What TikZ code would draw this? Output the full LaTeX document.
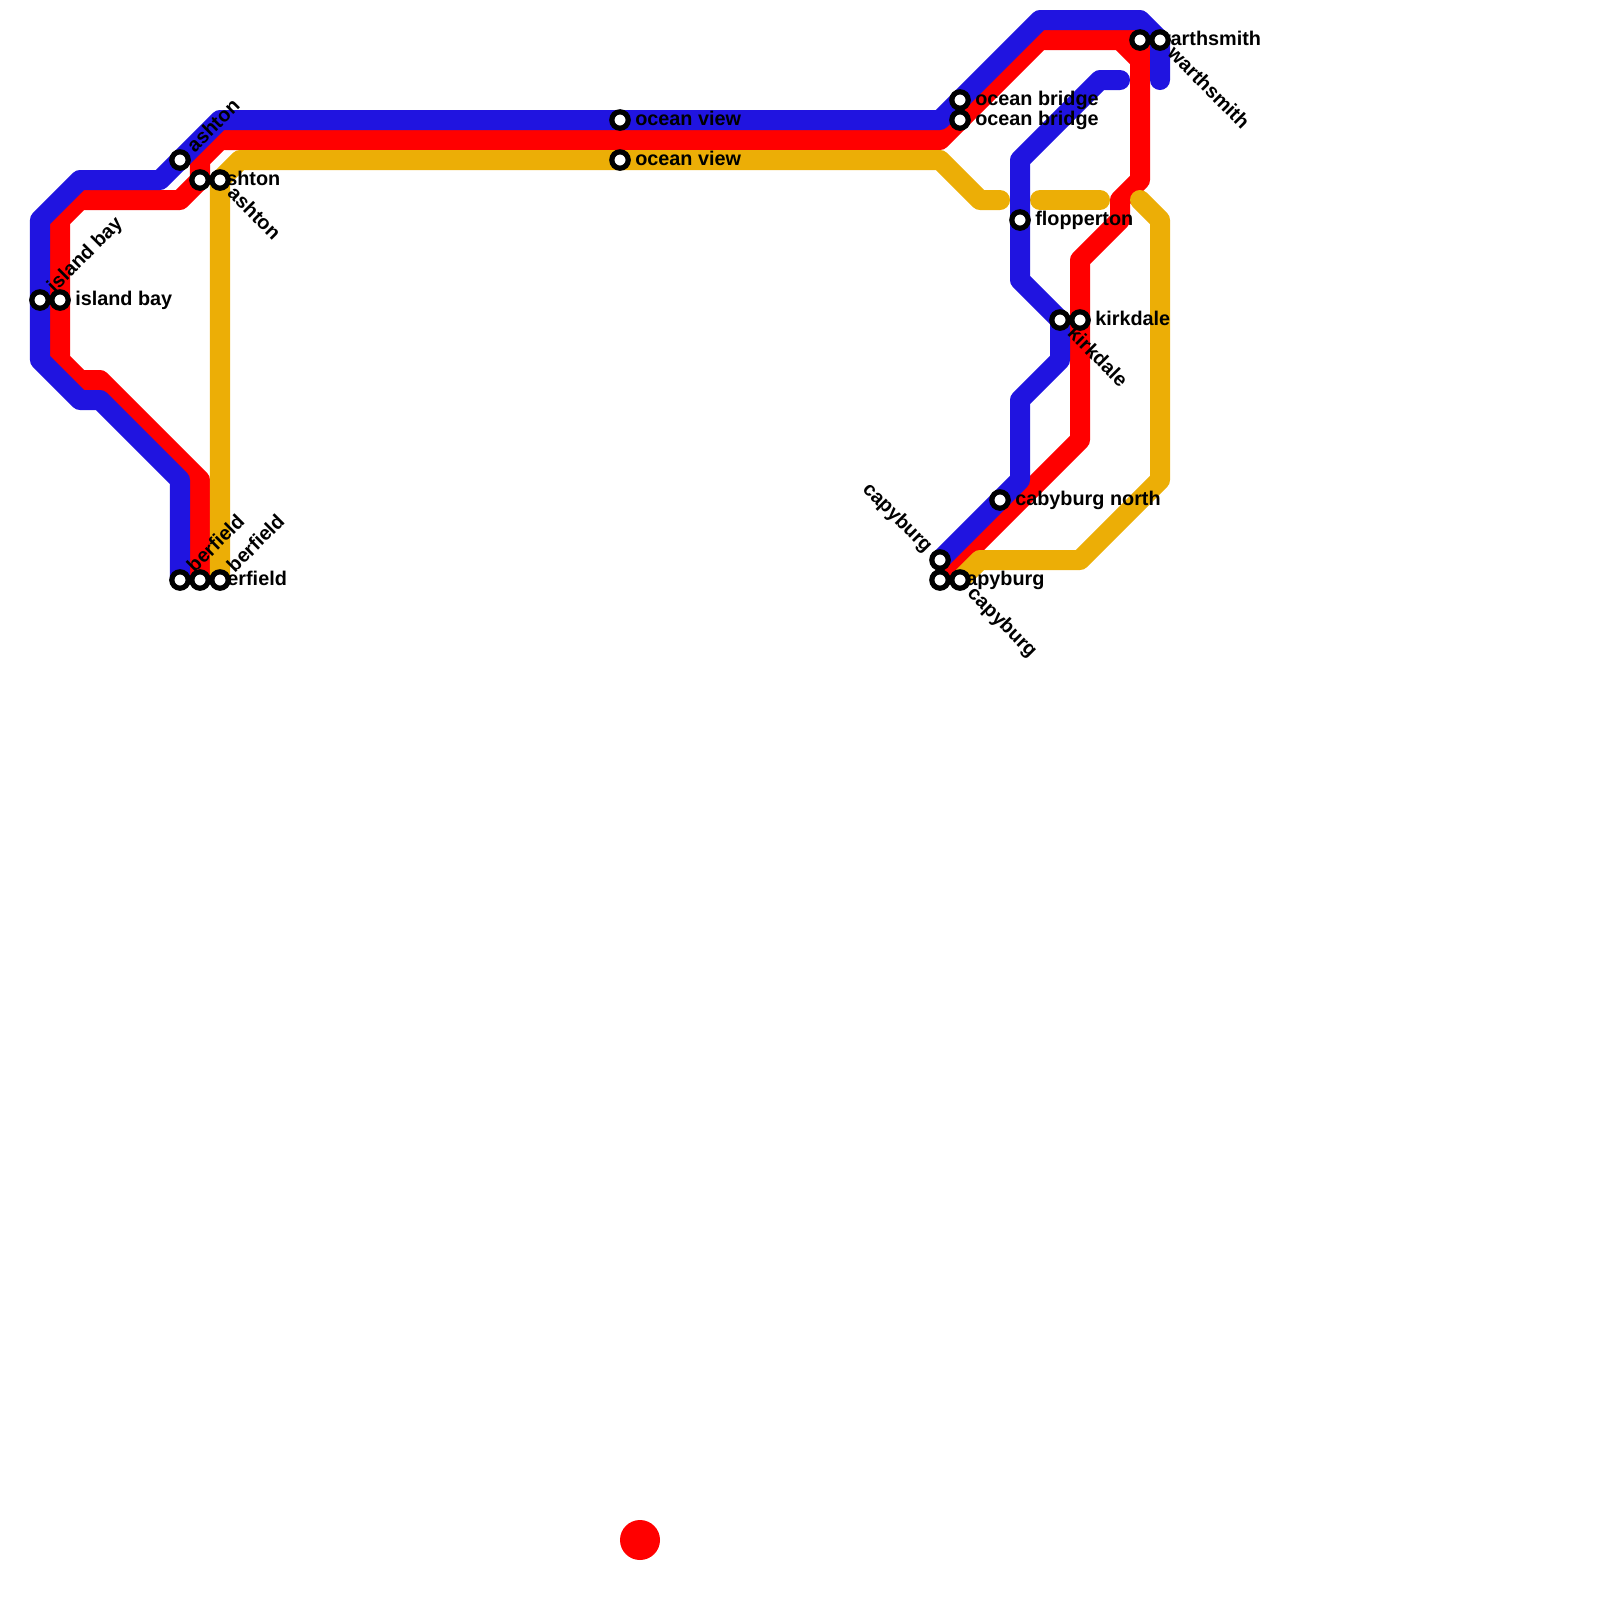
\documentclass[tikz,border=0pt]{standalone}
\usepackage{fontspec}
\setmainfont{Liberation Sans}
\usepackage{xcolor}
\usepackage{tikz}
\usetikzlibrary{positioning,arrows.meta,calc}
\definecolor{lineblue}{RGB}{32,20,224}
\definecolor{linered}{RGB}{255,0,0}
\definecolor{lineyellow}{RGB}{236,174,6}
\tikzset{
  route/.style={line width=0.5cm,line cap=round,line join=round},
  stn/.style={circle,draw=black,fill=white,line width=0.13cm,minimum size=0.41cm,inner sep=0pt,outer sep=0pt},
  lbl/.style={font=\bfseries\fontsize{14.1}{14}\selectfont,inner xsep=0.375cm,inner ysep=0pt,text height=10pt,text depth=1.6pt},
  lblE/.style={lbl,anchor=west},
  lblNE/.style={lbl,anchor=west,rotate=45},
  lblSE/.style={lbl,anchor=west,rotate=-45},
  lblNW/.style={lbl,anchor=east,rotate=-45},
}
\begin{document}
\begin{tikzpicture}[x=0.025cm,y=-0.025cm]
  \useasboundingbox (0,0) rectangle (1600,1600);
  % station positions
  \coordinate (islandA) at (40,300);
  \coordinate (islandB) at (60,300);
  \coordinate (ashtonA) at (180,160);
  \coordinate (ashtonB) at (200,180);
  \coordinate (ashtonC) at (220,180);
  \coordinate (oberA) at (180,580);
  \coordinate (oberB) at (200,580);
  \coordinate (oberC) at (220,580);
  \coordinate (viewA) at (620,120);
  \coordinate (viewB) at (620,160);
  \coordinate (bridgeA) at (960,100);
  \coordinate (bridgeB) at (960,120);
  \coordinate (warthA) at (1140,40);
  \coordinate (warthB) at (1160,40);
  \coordinate (flop) at (1020,220);
  \coordinate (kirkA) at (1060,320);
  \coordinate (kirkB) at (1080,320);
  \coordinate (north) at (1000,500);
  \coordinate (capyA) at (940,560);
  \coordinate (capyB) at (940,580);
  \coordinate (capyC) at (960,580);
  % red line
  \draw[route,linered] (oberB) -- (200,480) -- (100,380) -- (80,380) -- (60,360) -- (islandB)
    -- (60,220) -- (80,200) -- (180,200) -- (ashtonB) -- (200,160) -- (220,140) -- (940,140)
    -- (bridgeB) -- (1040,40) -- (warthA) -- (1140,180) -- (1120,200) -- (1120,220)
    -- (1080,260) -- (kirkB) -- (1080,440) -- (capyB);
  \draw[route,linered] (1120,40) -- (1140,60);
  % yellow line, broken in three
  \draw[route,lineyellow] (oberC) -- (ashtonC) -- (240,160) -- (viewB) -- (940,160) -- (980,200) -- (1000,200);
  \draw[route,lineyellow] (1040,200) -- (1100,200);
  \draw[route,lineyellow] (1140,200) -- (1160,220) -- (1160,480) -- (1080,560) -- (980,560) -- (capyC);
  % blue lines
  \draw[route,lineblue] (oberA) -- (180,480) -- (100,400) -- (80,400) -- (40,360) -- (islandA)
    -- (40,220) -- (80,180) -- (160,180) -- (ashtonA) -- (220,120) -- (viewA) -- (940,120)
    -- (bridgeA) -- (1040,20) -- (1140,20) -- (warthB) -- (1160,80);
  \draw[route,lineblue] (1120,80) -- (1100,80) -- (1020,160) -- (flop) -- (1020,280) -- (kirkA)
    -- (1060,360) -- (1020,400) -- (1020,480) -- (north) -- (capyA);
  % labels go under the stations
  \node[lblNE] (islandAtxt) at (islandA) {island bay};
  \node[lblE] (islandBtxt) at (islandB) {island bay};
  \node[lblNE] (ashtonAtxt) at (ashtonA) {ashton};
  \node[lblE] (ashtonBtxt) at (ashtonB) {ashton};
  \node[lblSE] (ashtonCtxt) at (ashtonC) {ashton};
  \node[lblNE] (oberAtxt) at (oberA) {berfield};
  \node[lblE] (oberBtxt) at (oberB) {berfield};
  \node[lblNE] (oberCtxt) at (oberC) {berfield};
  \node[lblE] (viewAtxt) at (viewA) {ocean view};
  \node[lblE] (viewBtxt) at (viewB) {ocean view};
  \node[lblE] (bridgeAtxt) at (bridgeA) {ocean bridge};
  \node[lblE] (bridgeBtxt) at (bridgeB) {ocean bridge};
  \node[lblE] (warthAtxt) at (warthA) {warthsmith};
  \node[lblSE] (warthBtxt) at (warthB) {warthsmith};
  \node[lblE] (floptxt) at (flop) {flopperton};
  \node[lblSE] (kirkAtxt) at (kirkA) {kirkdale};
  \node[lblE] (kirkBtxt) at (kirkB) {kirkdale};
  \node[lblE] (northtxt) at (north) {cabyburg north};
  \node[lblNW] (capyAtxt) at (capyA) {capyburg};
  \node[lblE] (capyBtxt) at (capyB) {capyburg};
  \node[lblSE] (capyCtxt) at (capyC) {capyburg};
  % stations
  \node[stn] (islandAstn) at (islandA) {};
  \node[stn] (islandBstn) at (islandB) {};
  \node[stn] (ashtonAstn) at (ashtonA) {};
  \node[stn] (ashtonBstn) at (ashtonB) {};
  \node[stn] (ashtonCstn) at (ashtonC) {};
  \node[stn] (oberAstn) at (oberA) {};
  \node[stn] (oberBstn) at (oberB) {};
  \node[stn] (oberCstn) at (oberC) {};
  \node[stn] (viewAstn) at (viewA) {};
  \node[stn] (viewBstn) at (viewB) {};
  \node[stn] (bridgeAstn) at (bridgeA) {};
  \node[stn] (bridgeBstn) at (bridgeB) {};
  \node[stn] (warthAstn) at (warthA) {};
  \node[stn] (warthBstn) at (warthB) {};
  \node[stn] (flopstn) at (flop) {};
  \node[stn] (kirkAstn) at (kirkA) {};
  \node[stn] (kirkBstn) at (kirkB) {};
  \node[stn] (northstn) at (north) {};
  \node[stn] (capyAstn) at (capyA) {};
  \node[stn] (capyBstn) at (capyB) {};
  \node[stn] (capyCstn) at (capyC) {};
  % red dot at the bottom
  \fill[linered] (640,1540) circle (20);
\end{tikzpicture}
\end{document}
